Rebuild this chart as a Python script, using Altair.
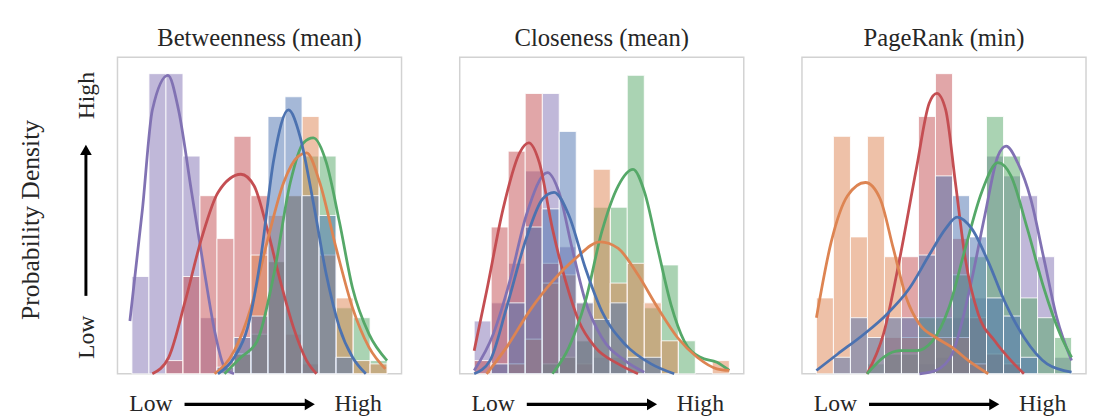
import altair as alt
import pandas as pd

TITLES = ["Betweenness (mean)", "Closeness (mean)", "PageRank (min)"]
COLORS = {"blue": "#4C72B0", "orange": "#DD8452", "green": "#55A868",
          "red": "#C44E52", "purple": "#8172B3"}
DRAW_ORDER = ["purple", "red", "green", "orange", "blue"]
N_BINS = 15

# ---- histogram heights (density, arbitrary units) per bin ----
BET_BLUE   = [0, 0, 0, 0, 0, 0.2, 1.1, 1.75, 7.8, 8.4, 5.4, 4.8, 0.5, 0, 0]
BET_ORANGE = [0, 0, 0, 0, 0, 0, 0.6, 3.6, 4.8, 5.4, 7.8, 3.6, 2.3, 0.4, 0.3]
BET_GREEN  = [0, 0, 0, 0, 0, 0, 0.6, 1.2, 3.4, 5.4, 6.6, 6.6, 2.0, 1.7, 0.4]
BET_RED    = [0, 0, 0.4, 2.95, 5.4, 4.1, 7.2, 5.4, 3.4, 1.2, 0.3, 0, 0, 0, 0]
BET_PURPLE = [2.95, 9.1, 9.1, 6.6, 1.7, 0, 0, 0, 0, 0, 0, 0, 0, 0, 0]

CLO_BLUE   = [0, 0.3, 2.15, 4.45, 5.0, 7.35, 2.15, 1.65, 2.15, 0.5, 0.5, 0, 0, 0, 0]
CLO_ORANGE = [0, 0, 0.3, 1.05, 2.75, 3.0, 2.15, 6.2, 2.75, 3.35, 2.15, 1.0, 0, 0, 0.4]
CLO_GREEN  = [0, 0, 0, 0, 0.3, 0.5, 1.0, 5.05, 5.05, 9.05, 2.0, 3.3, 1.0, 0, 0]
CLO_RED    = [0.4, 4.45, 6.75, 8.5, 3.35, 0.5, 0.3, 0, 0, 0, 0, 0, 0, 0, 0]
CLO_PURPLE = [1.6, 2.15, 3.35, 6.15, 8.5, 3.85, 1.0, 0.5, 0.5, 0, 0, 0, 0, 0, 0]

PR_BLUE    = [0, 0.5, 1.7, 1.1, 1.7, 1.7, 3.6, 6.0, 5.4, 4.15, 2.3, 1.75, 0.5, 0, 0]
PR_ORANGE  = [2.3, 7.2, 4.15, 7.2, 3.55, 1.1, 1.1, 1.1, 1.1, 0.3, 0, 0, 0, 0, 0]
PR_GREEN   = [0, 0, 0, 0.3, 0.6, 0.6, 1.7, 1.7, 3.0, 3.55, 7.8, 6.6, 2.3, 1.7, 1.1]
PR_RED     = [0, 0, 0, 0, 1.1, 3.55, 7.8, 9.1, 4.1, 1.7, 0.6, 0.3, 0, 0, 0]
PR_PURPLE  = [0, 0, 0, 0, 0, 0, 0.3, 0.5, 1.7, 2.3, 6.6, 6.0, 5.4, 3.55, 0.5]

# ---- KDE curves: (x in bin units, density) ----
BET_BLUE_KDE = [(5.06, 0), (6.02, 0.5), (6.8, 1.4), (7.57, 3.5), (8.34, 6.5), (9.2, 8.0),
                (9.88, 7.2), (10.66, 5.2), (11.43, 3.0), (12.2, 1.4), (12.97, 0.5), (13.75, 0)]
BET_ORANGE_KDE = [(4.86, 0), (6.02, 0.7), (6.99, 2.0), (7.95, 4.0), (8.92, 5.8), (9.79, 6.6),
                  (10.27, 6.7), (11.04, 5.8), (12.01, 3.8), (12.97, 2.0), (13.94, 0.8), (14.9, 0.15)]
BET_GREEN_KDE = [(5.44, 0), (6.41, 0.5), (7.37, 1.0), (8.34, 3.0), (9.31, 5.8), (10.08, 7.0),
                 (10.66, 7.15), (11.43, 6.4), (12.2, 4.6), (12.97, 2.6), (13.94, 1.2), (15.0, 0.4)]
BET_RED_KDE = [(1.2, 0), (2.16, 0.5), (3.13, 2.2), (4.09, 4.1), (5.06, 5.5), (6.41, 6.05),
               (7.18, 5.7), (7.95, 4.4), (8.73, 2.8), (9.5, 1.4), (10.27, 0.4), (10.85, 0)]
BET_PURPLE_KDE = [(-0.12, 1.6), (0.62, 5.0), (1.2, 8.0), (2.12, 9.05), (2.74, 8.0), (3.51, 5.5),
                  (4.29, 3.0), (4.86, 1.3), (5.44, 0.2), (6.0, 0)]

CLO_BLUE_KDE = [(0, 0), (0.93, 0.4), (1.9, 2.0), (3.06, 4.1), (4.02, 5.3), (4.7, 5.5),
                (5.57, 4.8), (6.54, 3.2), (7.5, 1.9), (8.86, 0.9), (10.4, 0.3), (11.76, 0)]
CLO_ORANGE_KDE = [(0.73, 0), (1.9, 0.8), (3.25, 1.9), (4.6, 2.8), (5.96, 3.5), (7.41, 4.0),
                  (8.47, 3.8), (9.63, 3.0), (10.79, 2.0), (11.95, 1.1), (13.11, 0.5), (14.27, 0.15), (15.0, 0.1)]
CLO_GREEN_KDE = [(4.6, 0), (5.57, 0.8), (6.54, 2.2), (7.5, 4.3), (8.47, 5.7), (9.34, 6.2),
                 (10.02, 5.5), (10.79, 3.8), (11.57, 2.1), (12.34, 1.0), (13.3, 0.5), (14.27, 0.35), (15.0, 0.1)]
CLO_RED_KDE = [(0, 0.7), (0.73, 2.5), (1.7, 5.0), (2.67, 6.7), (3.21, 7.0), (3.83, 6.4),
               (4.6, 4.4), (5.38, 2.8), (6.15, 1.6), (7.12, 0.8), (8.47, 0.3), (9.63, 0)]
CLO_PURPLE_KDE = [(0, 0.1), (1.12, 1.2), (2.09, 2.8), (3.06, 4.8), (4.31, 6.1), (4.99, 5.5),
                  (5.76, 3.8), (6.54, 2.2), (7.5, 1.1), (8.86, 0.4), (10.0, 0.05)]

PR_BLUE_KDE = [(0, 0.1), (1.25, 0.6), (2.79, 1.2), (4.13, 1.8), (5.48, 2.6), (6.63, 3.6),
               (7.6, 4.4), (8.27, 4.75), (9.13, 4.4), (10.1, 3.4), (11.06, 2.2), (12.21, 1.1),
               (13.56, 0.3), (15.0, 0.05)]
PR_ORANGE_KDE = [(0, 1.7), (0.87, 4.0), (1.83, 5.4), (2.88, 5.8), (3.75, 5.3), (4.52, 3.8),
                 (5.29, 2.3), (6.06, 1.5), (7.02, 1.1), (7.98, 0.8), (8.94, 0.4), (10.1, 0)]
PR_GREEN_KDE = [(2.98, 0), (3.94, 0.5), (4.9, 0.7), (5.87, 0.7), (6.83, 1.0), (7.79, 2.0),
                (8.75, 3.8), (9.71, 5.5), (10.67, 6.4), (11.44, 6.0), (12.4, 4.4), (13.37, 2.6),
                (14.33, 1.2), (15.0, 0.5)]
PR_RED_KDE = [(2.98, 0), (3.94, 1.2), (4.9, 3.5), (5.87, 6.2), (6.63, 8.2), (7.08, 8.5),
              (7.6, 8.0), (8.17, 5.8), (8.75, 3.5), (9.52, 1.8), (10.48, 1.0), (11.44, 0.4), (12.2, 0)]
PR_PURPLE_KDE = [(6.06, 0), (7.02, 0.1), (7.98, 0.6), (8.94, 2.4), (9.9, 4.8), (10.67, 6.6),
                 (11.15, 6.9), (11.83, 6.4), (12.6, 5.3), (13.37, 3.5), (14.13, 1.7), (15.0, 0.4)]

HIST = [
    {"blue": BET_BLUE, "orange": BET_ORANGE, "green": BET_GREEN, "red": BET_RED, "purple": BET_PURPLE},
    {"blue": CLO_BLUE, "orange": CLO_ORANGE, "green": CLO_GREEN, "red": CLO_RED, "purple": CLO_PURPLE},
    {"blue": PR_BLUE, "orange": PR_ORANGE, "green": PR_GREEN, "red": PR_RED, "purple": PR_PURPLE},
]
KDE = [
    {"blue": BET_BLUE_KDE, "orange": BET_ORANGE_KDE, "green": BET_GREEN_KDE, "red": BET_RED_KDE, "purple": BET_PURPLE_KDE},
    {"blue": CLO_BLUE_KDE, "orange": CLO_ORANGE_KDE, "green": CLO_GREEN_KDE, "red": CLO_RED_KDE, "purple": CLO_PURPLE_KDE},
    {"blue": PR_BLUE_KDE, "orange": PR_ORANGE_KDE, "green": PR_GREEN_KDE, "red": PR_RED_KDE, "purple": PR_PURPLE_KDE},
]

hist_rows, kde_rows = [], []
for p in range(3):
    for s in DRAW_ORDER:
        for k, v in enumerate(HIST[p][s]):
            if v > 0:
                hist_rows.append(dict(panel=p, series=s, x0=k, x1=k + 1, v=v, v0=0))
        for o, (x, y) in enumerate(KDE[p][s]):
            kde_rows.append(dict(panel=p, series=s, x=x, y=y, o=o))
hist_df = pd.DataFrame(hist_rows)
kde_df = pd.DataFrame(kde_rows)
one = pd.DataFrame({"a": [0]})

FONT = "Liberation Serif"
W, H = 288, 321


def txt(label, x, y, angle=0, align="center", size=24):
    kw = dict(text=label, font=FONT, fontSize=size, color="#262626", align=align, baseline="middle")
    if angle:
        kw["angle"] = angle
    return alt.Chart(one).mark_text(**kw).encode(x=alt.value(x), y=alt.value(y))


def panel(p, left_labels=False):
    xs = alt.Scale(domain=[-0.85, 15.85], nice=False, zero=False)
    ys = alt.Scale(domain=[0, 9.6], nice=False, zero=False)
    col = alt.Color("series:N", scale=alt.Scale(domain=list(COLORS), range=list(COLORS.values())), legend=None)
    bars = alt.Chart(hist_df[hist_df.panel == p]).mark_bar(
        fillOpacity=0.5, stroke="white", strokeWidth=1, strokeOpacity=0.85
    ).encode(
        x=alt.X("x0:Q", scale=xs, axis=None), x2="x1:Q",
        y=alt.Y("v:Q", scale=ys, axis=None), y2="v0:Q",
        color=col,
    )
    lines = alt.Chart(kde_df[kde_df.panel == p]).mark_line(
        strokeWidth=2.8, interpolate="monotone"
    ).encode(
        x=alt.X("x:Q", scale=xs, axis=None), y=alt.Y("y:Q", scale=ys, axis=None),
        color=col, order="o:Q",
    )
    by = 352
    layers = [
        bars, lines,
        txt(TITLES[p], W / 2, -19, size=25),
        txt("Low", 12, by, align="left"),
        alt.Chart(one).mark_rule(color="black", strokeWidth=3.5).encode(
            x=alt.value(68), x2=alt.value(192), y=alt.value(by)),
        alt.Chart(one).mark_point(shape="triangle-right", filled=True, size=140, color="black", opacity=1).encode(
            x=alt.value(195), y=alt.value(by)),
        txt("High", 220, by, align="left"),
    ]
    ax = -109 if left_labels else 0
    layers.append(alt.Chart(one).mark_rule(color="white", strokeWidth=1).encode(
        x=alt.value(ax), x2=alt.value(ax + 1), y=alt.value(-45)))
    if left_labels:
        layers += [
            txt("Probability Density", -88, 165, angle=270, size=26),
            txt("High", -31, 39, angle=270),
            txt("Low", -31, 284, angle=270),
            alt.Chart(one).mark_rule(color="black", strokeWidth=3).encode(
                x=alt.value(-32), y=alt.value(242), y2=alt.value(98)),
            alt.Chart(one).mark_point(shape="triangle-up", filled=True, size=140, color="black", opacity=1).encode(
                x=alt.value(-32), y=alt.value(94)),
        ]
    return alt.layer(*layers).properties(width=W, height=H)


chart = alt.hconcat(panel(0, True), panel(1), panel(2), spacing=56).configure_view(
    stroke="#d2d2d2", strokeWidth=1.5
).properties(padding=0, background="white")

chart.save("out.html", embed_options={"renderer": "svg", "actions": False})
